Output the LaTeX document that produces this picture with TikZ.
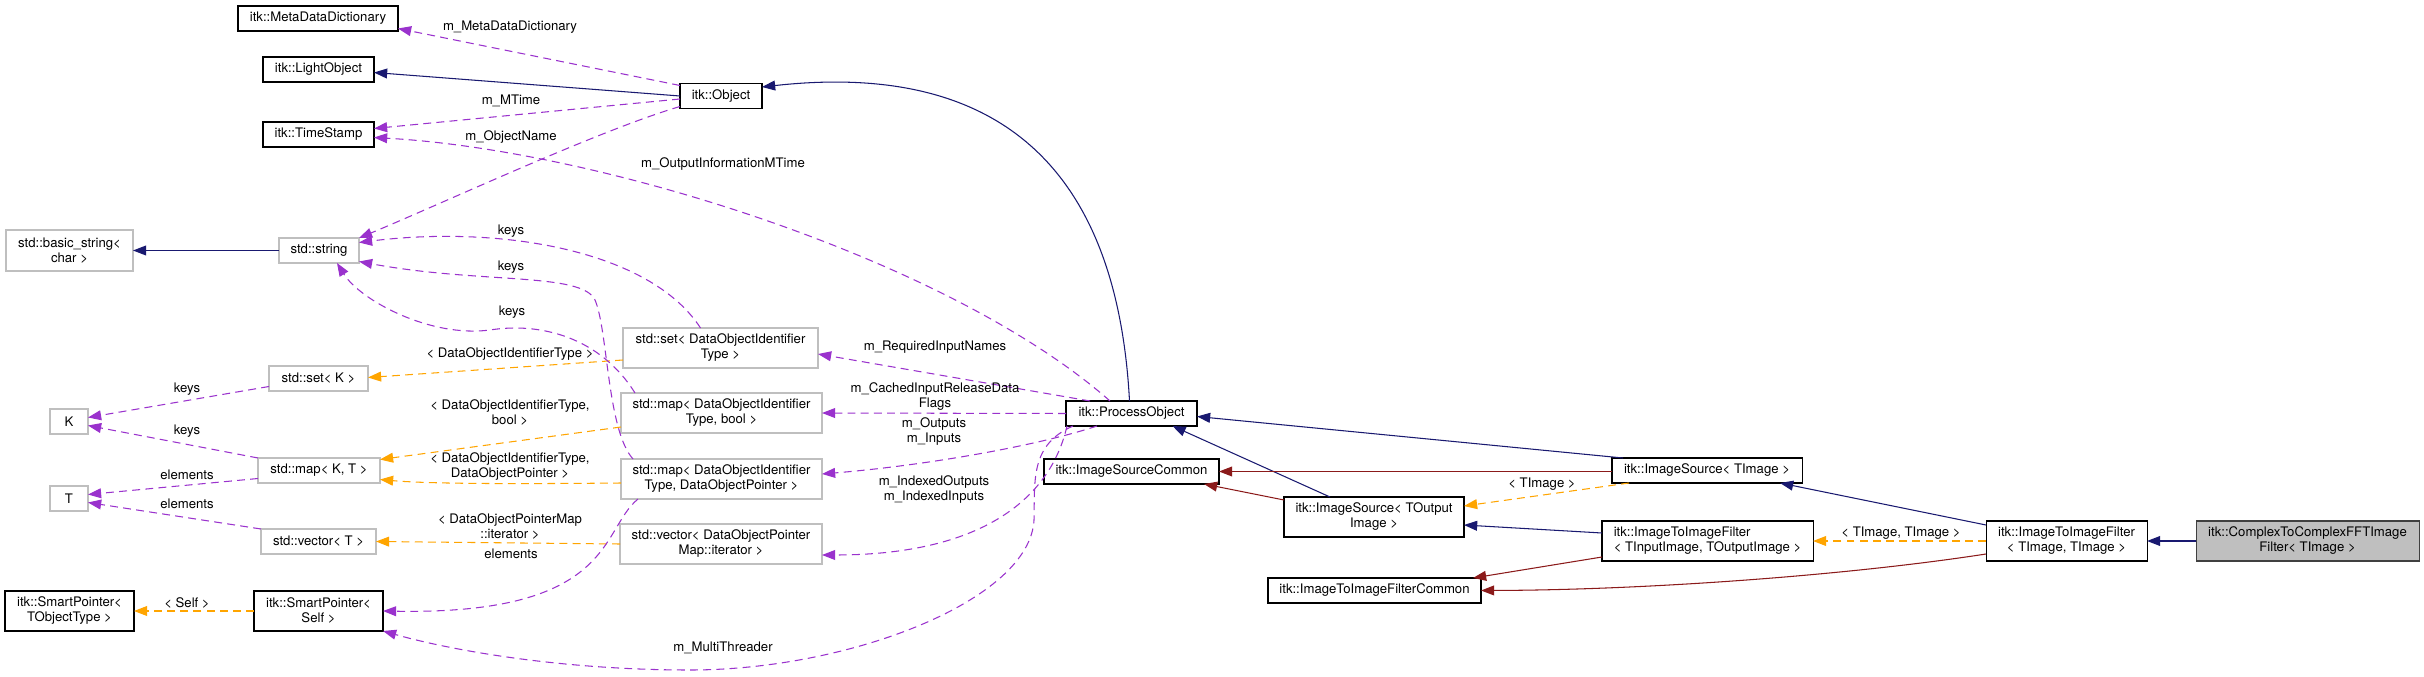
\documentclass[tikz,border=0pt]{standalone}
\usepackage{fontspec}
\setmainfont{TeX Gyre Heros}
\usetikzlibrary{arrows.meta,calc}
\definecolor{dxblue}{HTML}{191970}
\definecolor{dxred}{HTML}{8B1A1A}
\definecolor{dxuse}{HTML}{9A32CD}
\definecolor{dxtmpl}{HTML}{FFA500}
\definecolor{dxgray}{HTML}{BFBFBF}

\begin{document}
\begin{tikzpicture}[
  x=0.76pt, y=-0.76pt,
  font=\fontsize{10}{11.4}\selectfont,
  sz/.style 2 args={minimum width=#1*0.76pt, minimum height=#2*0.76pt},
  cls/.style={draw=black, fill=white, line width=0.8pt, inner sep=1pt,
    outer sep=0pt, align=center},
  ext/.style={cls, draw=dxgray},
  focus/.style={cls, draw=black!75, fill=dxgray},
  lbl/.style={inner sep=0pt, align=center},
  edge/.style={line width=0.8pt, -{Triangle[length=10pt, width=7.5pt]}},
  pubinh/.style={edge, draw=dxblue},
  privinh/.style={edge, draw=dxred},
  uses/.style={edge, draw=dxuse, dash pattern=on 6pt off 4pt},
  tmpl/.style={edge, draw=dxtmpl, dash pattern=on 6pt off 4pt},
  ]
  \fill[white] (0,0) rectangle (2424,677);
  \useasboundingbox (0,0) rectangle (2424,677);

  % classes
  \node[cls, sz={160}{25}] (meta) at (318,18.5) {itk::MetaDataDictionary};
  \node[cls, sz={111}{25}] (light) at (318.5,69.5) {itk::LightObject};
  \node[cls, sz={111}{25}] (stamp) at (318.5,134.5) {itk::TimeStamp};
  \node[cls, sz={82}{25}] (object) at (721,96) {itk::Object};
  \node[ext, sz={127}{41}] (basicstr) at (69.5,250.5) {std::basic\_string<\\char >};
  \node[ext, sz={80}{25}] (stdstr) at (319,250.5) {std::string};
  \node[ext, sz={99}{25}] (setK) at (318.5,378.5) {std::set< K >};
  \node[ext, sz={38}{25}] (K) at (69,421.5) {K};
  \node[ext, sz={122}{25}] (mapKT) at (319,470.5) {std::map< K, T >};
  \node[ext, sz={38}{25}] (T) at (69,498.5) {T};
  \node[ext, sz={115}{25}] (vecT) at (318.5,541.5) {std::vector< T >};
  \node[cls, sz={129}{40}] (spTObj) at (69.5,611) {itk::SmartPointer<\\TObjectType >};
  \node[cls, sz={129}{40}] (spSelf) at (318.5,611) {itk::SmartPointer<\\Self >};
  \node[ext, sz={195}{40}] (setDOI) at (720.5,348) {std::set< DataObjectIdentifier\\Type >};
  \node[ext, sz={201}{40}] (mapBool) at (721.5,413) {std::map< DataObjectIdentifier\\Type, bool >};
  \node[ext, sz={201}{40}] (mapDOP) at (721.5,479) {std::map< DataObjectIdentifier\\Type, DataObjectPointer >};
  \node[ext, sz={202}{40}] (vecDOP) at (721,544) {std::vector< DataObjectPointer\\Map::iterator >};
  \node[cls, sz={131}{25}] (proc) at (1131.5,413.5) {itk::ProcessObject};
  \node[cls, sz={175}{25}] (isc) at (1131.5,471.5) {itk::ImageSourceCommon};
  \node[cls, sz={190}{25}] (isT) at (1707,470.5) {itk::ImageSource< TImage >};
  \node[cls, sz={180}{40}] (isOut) at (1374,517) {itk::ImageSource< TOutput\\Image >};
  \node[cls, sz={211}{40}, align=left] (itiIO) at (1707.5,541)
    {itk::ImageToImageFilter\\< TInputImage, TOutputImage >};
  \node[cls, sz={213}{25}] (itiCommon) at (1374.5,590.5) {itk::ImageToImageFilterCommon};
  \node[cls, sz={161}{40}] (itiT) at (2066.5,541) {itk::ImageToImageFilter\\< TImage, TImage >};
  \node[focus, sz={223}{40}] (main) at (2307.5,541) {itk::ComplexToComplexFFTImage\\Filter< TImage >};

  % inheritance
  \draw[pubinh] (object.west) -- ($(light.east)+(0,3)$);
  \draw[pubinh] ($(proc.north)+(-2,0)$) .. controls (1115,130) and (960,65) .. ($(object.east)+(0,-9)$);
  \draw[pubinh] (stdstr.west) -- (basicstr.east);
  \draw[pubinh] ($(isT.north west)+(11,0)$) -- ($(proc.east)+(0,3)$);
  \draw[pubinh] ($(isOut.north west)+(46,0)$) -- ($(proc.south)+(41,0)$);
  \draw[pubinh] ($(itiIO.west)+(0,-8)$) -- ($(isOut.east)+(0,8)$);
  \draw[pubinh] ($(itiT.north west)+(0,4)$) -- ($(isT.south east)+(-22,0)$);
  \draw[pubinh] (main.west) -- (itiT.east);
  \draw[privinh] ($(isT.west)+(0,1)$) -- (isc.east);
  \draw[privinh] ($(isOut.north west)+(0,3)$) -- ($(isc.south east)+(-15,0)$);
  \draw[privinh] ($(itiIO.south west)+(0,-4)$) -- ($(itiCommon.north east)+(-8,0)$);
  \draw[privinh] ($(itiT.south west)+(0,-7)$) .. controls (1850,575) and (1650,590) .. (itiCommon.east);

  % template instances
  \draw[tmpl] ($(isT.south west)+(17,0)$) -- ($(isOut.east)+(0,-11)$);
  \draw[tmpl] (itiT.west) -- (itiIO.east);
  \draw[tmpl] (spSelf.west) -- (spTObj.east);
  \draw[tmpl] ($(setDOI.west)+(0,12)$) -- ($(setK.east)+(0,-1)$);
  \draw[tmpl] ($(mapBool.west)+(0,14)$) -- ($(mapKT.east)+(0,-11)$);
  \draw[tmpl] ($(mapDOP.west)+(0,4)$) .. controls (520,484) and (430,484) .. ($(mapKT.east)+(0,9)$);
  \draw[tmpl] (vecDOP.west) -- (vecT.east);
  \node[lbl] (lTImg) at (1542,484) {< TImage >};
  \node[lbl] (lTImg2) at (1901,533) {< TImage, TImage >};
  \node[lbl] (lSelf) at (187,603) {< Self >};
  \node[lbl] (lDOIT) at (510,354) {< DataObjectIdentifierType >};
  \node[lbl] (lDOITb) at (510,413) {< DataObjectIdentifierType,\\bool >};
  \node[lbl] (lDOITp) at (510,467) {< DataObjectIdentifierType,\\DataObjectPointer >};
  \node[lbl] (lDOPM) at (510,527) {< DataObjectPointerMap\\::iterator >};

  % usage
  \draw[uses] ($(object.north west)+(0,2)$) -- ($(meta.east)+(0,10)$);
  \draw[uses] ($(object.west)+(0,3)$) -- ($(stamp.east)+(0,-6)$);
  \draw[uses] ($(proc.north west)+(44,0)$) .. controls (950,260) and (600,150) .. ($(stamp.east)+(0,3)$);
  \draw[uses] ($(object.south west)+(0,-2)$) .. controls (600,130) and (450,200) .. (stdstr.north east);
  \draw[uses] ($(setDOI.north)+(-20,0)$) .. controls (650,250) and (500,225) .. ($(stdstr.east)+(0,-8)$);
  \draw[uses] ($(mapDOP.north west)+(12,0)$) .. controls (607,430) and (608,330) .. (595,300)
    .. controls (582,272) and (480,284) .. ($(stdstr.east)+(0,11)$);
  \draw[uses] ($(mapBool.north west)+(14,0)$) .. controls (600,337) and (540,322) .. (490,330)
    .. controls (430,338) and (360,300) .. ($(stdstr.south)+(18,0)$);
  \draw[uses] ($(mapDOP.south west)+(17,0)$) .. controls (600,530) and (615,615) .. (spSelf.east);
  \draw[uses] ($(proc.north west)+(24,0)$) -- ($(setDOI.east)+(0,6)$);
  \draw[uses] (proc.west) -- (mapBool.east);
  \draw[uses] ($(proc.south west)+(31,0)$) .. controls (1040,445) and (930,465) .. ($(mapDOP.east)+(0,-5)$);
  \draw[uses] ($(proc.south west)+(1,0)$) .. controls (1050,500) and (980,555) .. ($(vecDOP.east)+(0,11)$);
  \draw[uses] ($(proc.south west)+(7,0)$) .. controls (1030,445) and (1035,480) .. (1034,520)
    .. controls (1030,600) and (850,670) .. (690,670)
    .. controls (560,670) and (450,650) .. (spSelf.south east);
  \draw[uses] ($(setK.west)+(0,8)$) -- ($(K.east)+(0,-4)$);
  \draw[uses] (mapKT.north west) -- ($(K.east)+(0,4)$);
  \draw[uses] ($(mapKT.west)+(0,8)$) -- ($(T.east)+(0,-4)$);
  \draw[uses] (vecT.north west) -- ($(T.east)+(0,4)$);
  \node[lbl] (lMeta) at (510,27) {m\_MetaDataDictionary};
  \node[lbl] (lMTime) at (511,101) {m\_MTime};
  \node[lbl] (lName) at (511,137) {m\_ObjectName};
  \node[lbl] (lOutInfo) at (723,164) {m\_OutputInformationMTime};
  \node[lbl] (lKeys1) at (511,231) {keys};
  \node[lbl] (lKeys2) at (511,267) {keys};
  \node[lbl] (lKeys3) at (512,312) {keys};
  \node[lbl] (lKeysS) at (187,389) {keys};
  \node[lbl] (lKeysM) at (187,431) {keys};
  \node[lbl] (lElemM) at (187,475) {elements};
  \node[lbl] (lElemV) at (187,504) {elements};
  \node[lbl] (lElemP) at (511,554) {elements};
  \node[lbl] (lReq) at (935,347) {m\_RequiredInputNames};
  \node[lbl] (lCached) at (935,397) {m\_CachedInputReleaseData\\Flags};
  \node[lbl] (lOuts) at (934,432) {m\_Outputs\\m\_Inputs};
  \node[lbl] (lIdx) at (934,490) {m\_IndexedOutputs\\m\_IndexedInputs};
  \node[lbl] (lThr) at (723,648) {m\_MultiThreader};
\end{tikzpicture}
\end{document}
